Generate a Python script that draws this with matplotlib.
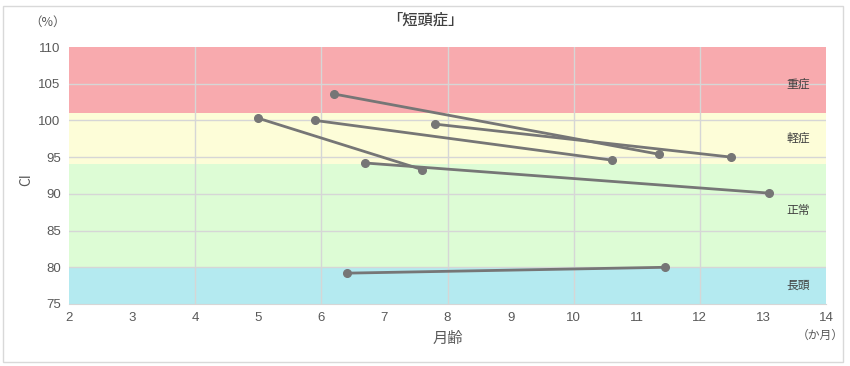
import matplotlib
matplotlib.use("Agg")
import matplotlib.pyplot as plt
from matplotlib.patches import Rectangle

plt.rcParams['font.family'] = ['Noto Sans CJK JP', 'DejaVu Sans']

# Data: each case = (start month, start CI, end month, end CI)
start_month = [6.2, 5.0, 5.9, 7.8, 6.7, 6.4]
start_ci = [103.6, 100.3, 100.0, 99.5, 94.2, 79.2]
end_month = [11.35, 7.6, 10.6, 12.5, 13.1, 11.45]
end_ci = [95.4, 93.3, 94.6, 95.0, 90.1, 80.0]

# Zones
zone_names = ["重症", "軽症", "正常", "長頭"]
zone_low = [101, 94, 80, 75]
zone_high = [110, 101, 94, 80]
zone_colors = ["#F8AAAE", "#FDFDD8", "#DDFCD5", "#B4EAF0"]
zone_label_y = [105, 97.6, 87.7, 77.6]

x_ticks = list(range(2, 15))
y_ticks = list(range(75, 111, 5))

fig = plt.figure(figsize=(8.5, 3.66), dpi=100)
ax = fig.add_axes([69/850, 1-304/366, (826-69)/850, (304-47)/366])

for lo, hi, c in zip(zone_low, zone_high, zone_colors):
    ax.axhspan(lo, hi, color=c, zorder=0, lw=0)

ax.set_xlim(2, 14)
ax.set_ylim(75, 110)
ax.set_xticks(x_ticks)
ax.set_yticks(y_ticks)
ax.grid(False)
for y in y_ticks[1:-1]:
    ax.axhline(y, color="#d6d6d6", lw=1, zorder=1)
for x in [4, 6, 8, 10, 12]:
    ax.axvline(x, color="#d6d6d6", lw=1, zorder=1)

for xs, ys, xe, ye in zip(start_month, start_ci, end_month, end_ci):
    ax.plot([xs, xe], [ys, ye], color="#767676", lw=2.0, marker="o",
            markersize=5.5, zorder=3, solid_capstyle="round")

for name, yl in zip(zone_names, zone_label_y):
    ax.text(13.75, yl, name, ha="right", va="center", fontsize=8.5, color="#404040", zorder=4)

for s in ["top", "right", "left"]:
    ax.spines[s].set_visible(False)
ax.spines["bottom"].set_color("#d6d6d6")
ax.tick_params(axis="both", length=0, labelsize=9.5, colors="#595959", pad=6)
for lab in ax.get_xticklabels() + ax.get_yticklabels():
    lab.set_family(['Liberation Sans', 'DejaVu Sans'])

fig.text(425/850, 1-20/366, "「短頭症」", ha="center", va="center", fontsize=11,
         fontweight="medium", color="#404040")
fig.text(48/850, 1-22/366, "（%）", ha="center", va="center", fontsize=9, color="#595959")
fig.text(26/850, 1-180/366, "CI", ha="center", va="center", fontsize=10, color="#595959", rotation=90)
fig.text(448/850, 1-338/366, "月齢", ha="center", va="center", fontsize=11, color="#595959")
fig.text(820/850, 1-335/366, "（か月）", ha="center", va="center", fontsize=8.5, color="#595959")

fig.patches.append(Rectangle((3/850, 4/366), 840/850, 356/366, transform=fig.transFigure,
                             fill=False, edgecolor="#d9d9d9", lw=1))

fig.savefig("out.png", dpi=100, facecolor="white")
